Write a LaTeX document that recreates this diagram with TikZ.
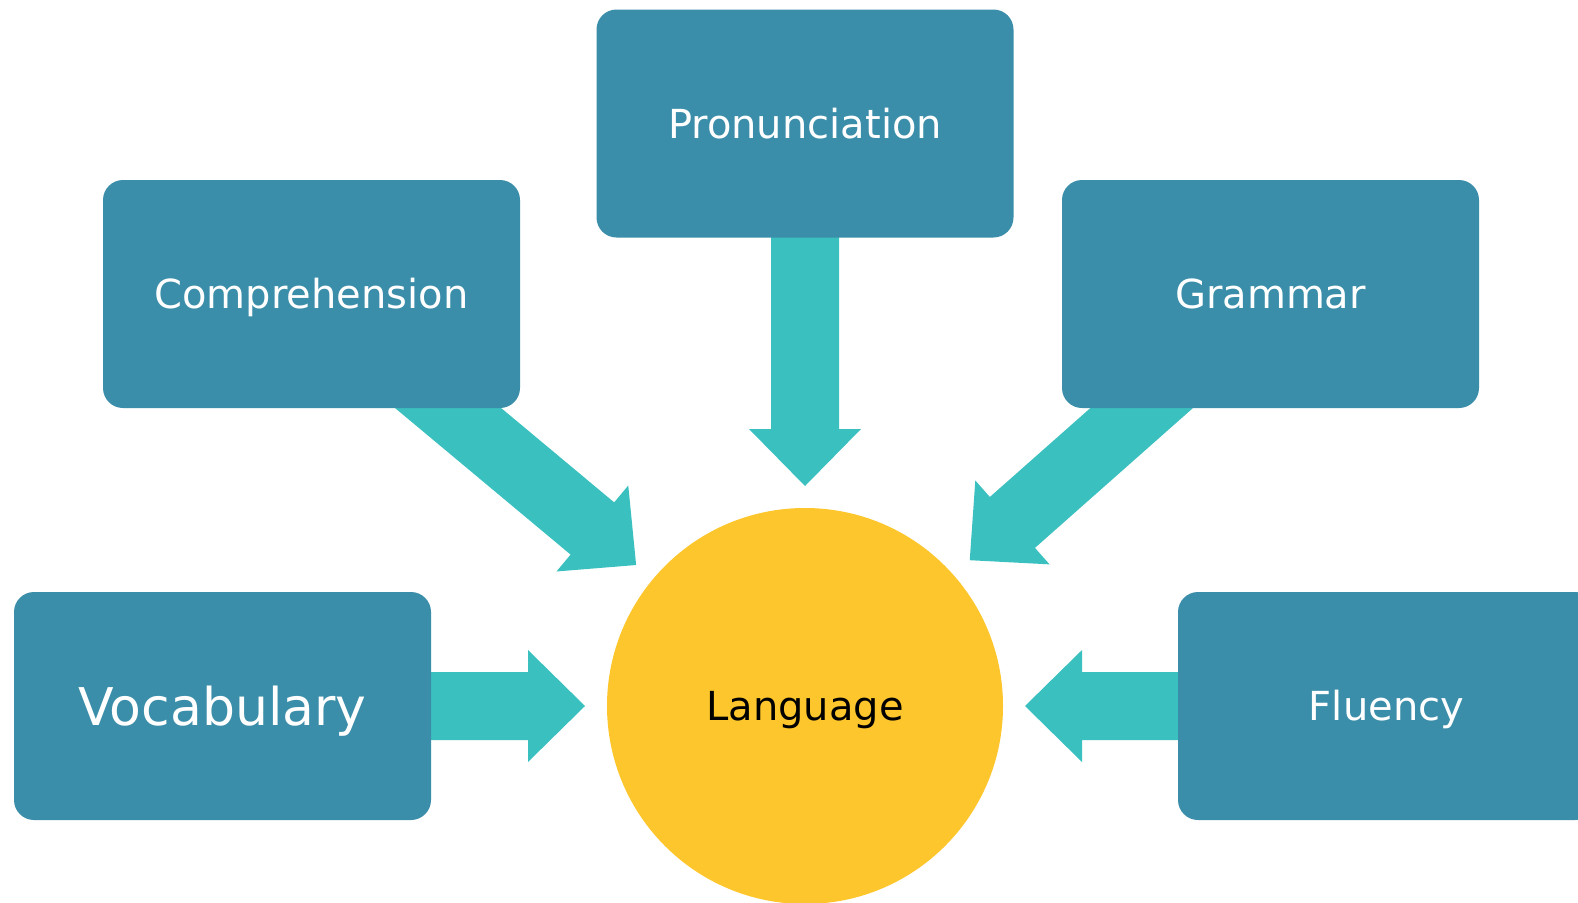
\documentclass[tikz,border=0pt]{standalone}
\usepackage{fontspec}
\setmainfont{DejaVu Sans}
\usetikzlibrary{calc}
\pgfdeclarelayer{bg}
\pgfsetlayers{bg,main}
\definecolor{boxblue}{RGB}{59,142,169}
\definecolor{arrowteal}{RGB}{59,192,192}
\definecolor{sun}{RGB}{253,198,44}
\tikzset{
  topic/.style={rectangle, rounded corners=20pt, fill=boxblue, text=white,
    minimum width=417pt, minimum height=228pt, inner sep=0pt,
    font=\fontsize{40}{48}\selectfont, text height=29pt, text depth=0pt},
  bigtopic/.style={topic, font=\fontsize{52}{60}\selectfont, text height=38pt},
  hub/.style={circle, fill=sun, text=black, minimum size=396pt, inner sep=0pt,
    font=\fontsize{40}{48}\selectfont, text height=29pt, text depth=0pt},
  feedarrow/.style={fill=arrowteal}
}
% block arrow from the centre of node #1 towards node #2, tip 220pt from #2's centre
\newcommand\feed[2]{%
  \coordinate (tip-#1) at ($(#2.center)!220pt!(#1.center)$);
  \coordinate (hb-#1) at ($(tip-#1)!57pt!(#1.center)$);
  \coordinate (sa-#1) at ($(hb-#1)!34pt!90:(tip-#1)$);
  \coordinate (sb-#1) at ($(hb-#1)!34pt!-90:(tip-#1)$);
  \fill[feedarrow] ($(#1.center)+(sa-#1)-(hb-#1)$)
    -- (sa-#1)
    -- ($(hb-#1)!56pt!90:(tip-#1)$)
    -- (tip-#1)
    -- ($(hb-#1)!56pt!-90:(tip-#1)$)
    -- (sb-#1)
    -- ($(#1.center)+(sb-#1)-(hb-#1)$) -- cycle;%
}
\begin{document}
\begin{tikzpicture}[x=1pt, y=-1pt]
  \useasboundingbox (0,0) rectangle (1578,902);
  \clip (0,0) rectangle (1578,902);
  \node[topic] (pron) at (805,123.5) {Pronunciation};
  \node[topic] (comp) at (311.5,294) {Comprehension};
  \node[topic] (gram) at (1270.5,294) {Grammar};
  \node[bigtopic] (voc) at (222.5,706) {Vocabulary};
  \node[topic] (flu) at (1386.5,706) {Fluency};
  \node[hub] (lang) at (805,706) {Language};
  \begin{pgfonlayer}{bg}
    \feed{pron}{lang}
    \feed{comp}{lang}
    \feed{gram}{lang}
    \feed{voc}{lang}
    \feed{flu}{lang}
  \end{pgfonlayer}
\end{tikzpicture}
\end{document}
